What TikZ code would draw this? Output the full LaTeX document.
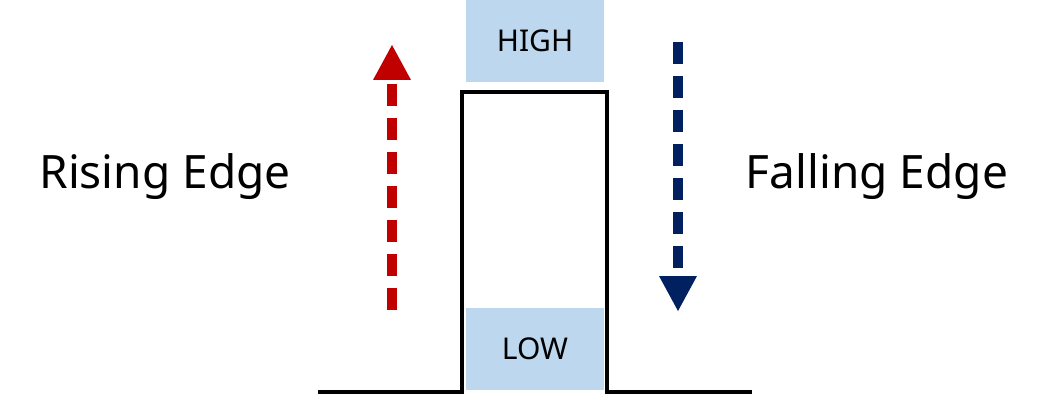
\documentclass[tikz,border=0pt]{standalone}
\usepackage{fontspec}
\setmainfont{Noto Sans}
\begin{document}
\begin{tikzpicture}[x=1pt,y=-1pt,
  lvl/.style={fill=lbl,minimum width=138pt,minimum height=82pt,inner sep=0pt,font=\fontsize{30}{36}\selectfont},
  big/.style={font=\fontsize{46}{54}\selectfont},
  shaft/.style={line width=10pt,dash pattern=on 22pt off 12pt}]
\definecolor{lbl}{HTML}{BDD7EE}
\definecolor{rd}{HTML}{C00000}
\definecolor{bl}{HTML}{002060}
\useasboundingbox (0,0) rectangle (1046,401);
\node[lvl] (high) at (535,41) {HIGH};
\node[lvl] (low) at (535,349) {LOW};
\draw[line width=4pt] (318,392) -- (462,392) -- (462,92) -- (607,92) -- (607,392) -- (752,392);
% red arrow
\coordinate (r0) at (392,310); \coordinate (r1) at (392,80);
\draw[shaft,rd] (r0) -- (r1);
\fill[rd] (373,80) -- (392,45) -- (411,80) -- cycle;
% blue arrow
\coordinate (b0) at (678,42); \coordinate (b1) at (678,276);
\draw[shaft,bl] (b0) -- (b1);
\fill[bl] (659,276) -- (678,311) -- (697,276) -- cycle;
\node[big] (rise) at (165,177) {Rising Edge};
\node[big] (fall) at (877,177) {Falling Edge};
\end{tikzpicture}
\end{document}
